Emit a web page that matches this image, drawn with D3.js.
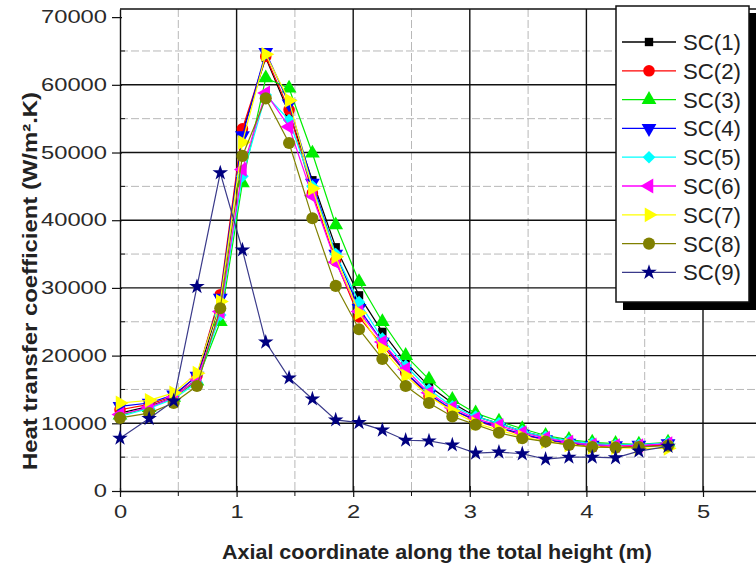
<!DOCTYPE html>
<html>
<head>
<meta charset="utf-8">
<script src="https://cdn.jsdelivr.net/npm/d3@7"></script>
<style>
  body { margin: 0; background: #fff; }
  svg { display: block; font-family: "Liberation Sans", Arial, sans-serif; }
</style>
</head>
<body>
<div id="chart"></div>
<script>
// axial positions (m)
const positions = [0, 0.25, 0.46, 0.66, 0.86, 1.05, 1.25, 1.45, 1.65, 1.85, 2.05, 2.25,
  2.45, 2.65, 2.85, 3.05, 3.25, 3.45, 3.65, 3.85, 4.05, 4.25, 4.45, 4.7];

const sc1 = [11500, 12500, 13800, 16500, 28000, 53000, 64000, 55800, 45900, 36000, 28900, 23500,
  19000, 15500, 13000, 11000, 10000, 8800, 8000, 7400, 7000, 6800, 6700, 7000];
const sc2 = [12000, 12800, 14000, 17000, 29000, 53500, 64200, 56300, 44000, 34000, 25700, 21500,
  17500, 14000, 12000, 10400, 9300, 8300, 7600, 7000, 6600, 6500, 6600, 6800];
const sc3 = [11200, 12300, 13800, 16200, 25000, 45500, 61000, 59500, 49900, 39300, 30900, 25000,
  20000, 16500, 13500, 11500, 10300, 9200, 8200, 7600, 7200, 7000, 6900, 7200];
const sc4 = [12500, 13000, 14200, 17000, 28500, 52500, 64800, 57200, 45500, 35000, 27000, 22000,
  17500, 14300, 12000, 10500, 9400, 8400, 7600, 7100, 6800, 6700, 6800, 7000];
const sc5 = [11000, 12200, 13600, 16000, 26000, 46500, 58500, 54800, 45000, 35000, 27900, 22500,
  18500, 15000, 12500, 11000, 10000, 8800, 8000, 7400, 7000, 6800, 6800, 7100];
const sc6 = [11300, 12400, 13800, 16500, 26500, 47500, 58800, 53800, 43600, 33800, 26500, 22000,
  18000, 14500, 12300, 10700, 9700, 8600, 7800, 7200, 6800, 6700, 6700, 7000];
const sc7 = [13000, 13400, 14500, 17400, 28000, 51500, 64500, 57700, 44700, 34600, 26300, 21000,
  17000, 14000, 11800, 10000, 9000, 8000, 7300, 6800, 6500, 6400, 6300, 6300];
const sc8 = [10800, 11500, 13000, 15500, 27000, 49500, 58000, 51400, 40300, 30300, 23900, 19500,
  15500, 13000, 11000, 9800, 8600, 7800, 7300, 6800, 6500, 6400, 6500, 6700];
const sc9 = [7800, 10700, 13300, 30200, 47000, 35600, 22000, 16700, 13600, 10500, 10100, 9000,
  7500, 7400, 6800, 5600, 5750, 5500, 4700, 5000, 5000, 4900, 5900, 6600];

const seriesNames = ['SC(1)', 'SC(2)', 'SC(3)', 'SC(4)', 'SC(5)', 'SC(6)', 'SC(7)', 'SC(8)', 'SC(9)'];
const seriesValues = [sc1, sc2, sc3, sc4, sc5, sc6, sc7, sc8, sc9];

const xTicks = [0, 1, 2, 3, 4, 5];
const yTicks = [0, 10000, 20000, 30000, 40000, 50000, 60000, 70000];

const COLORS = ['#000000', '#ff0000', '#00ee00', '#0000ff', '#00ffff', '#ff00ff', '#ffff00', '#808000', '#000080'];
const LINE_COLORS = ['#000000', '#ff0000', '#00ee00', '#0000ff', '#00ffff', '#ff00ff', '#ffff00', '#808000', '#3a3a8a'];
// symbol type, size, rotation
const MARKERS = [
  [d3.symbolSquare, 70, 0],
  [d3.symbolCircle, 105, 0],
  [d3.symbolTriangle, 95, 0],
  [d3.symbolTriangle, 95, 180],
  [d3.symbolSquare, 80, 45],
  [d3.symbolTriangle, 95, -90],
  [d3.symbolTriangle, 95, 90],
  [d3.symbolCircle, 115, 0],
  [d3.symbolStar, 75, 0],
];

const W = 756, H = 566;
const svg = d3.select('#chart').append('svg').attr('width', W).attr('height', H);

const x = d3.scaleLinear().domain([0, 5.5]).range([120, 761.3]);
const y = d3.scaleLinear().domain([0, 71200]).range([491, 9]);

// grid
const grid = svg.append('g');
const halfX = d3.range(0.5, 5.6, 1);
const halfY = d3.range(5000, 70000, 10000);
grid.selectAll('.vmin').data(halfX).enter().append('line')
  .attr('x1', (d) => x(d)).attr('x2', (d) => x(d)).attr('y1', y(71200)).attr('y2', y(0))
  .attr('stroke', '#b8b8b8').attr('stroke-width', 1).attr('stroke-dasharray', '8,3');
grid.selectAll('.hmin').data(halfY).enter().append('line')
  .attr('x1', x(0)).attr('x2', W).attr('y1', (d) => y(d)).attr('y2', (d) => y(d))
  .attr('stroke', '#b8b8b8').attr('stroke-width', 1).attr('stroke-dasharray', '8,3');
grid.selectAll('.vmaj').data(xTicks.slice(1)).enter().append('line')
  .attr('x1', (d) => x(d)).attr('x2', (d) => x(d)).attr('y1', y(71200)).attr('y2', y(0))
  .attr('stroke', '#111').attr('stroke-width', 1.4);
grid.selectAll('.hmaj').data(yTicks.slice(1, -1)).enter().append('line')
  .attr('x1', x(0)).attr('x2', W).attr('y1', (d) => y(d)).attr('y2', (d) => y(d))
  .attr('stroke', '#111').attr('stroke-width', 1.4);
grid.append('line')
  .attr('x1', x(0)).attr('x2', W).attr('y1', y(71200)).attr('y2', y(71200))
  .attr('stroke', '#111').attr('stroke-width', 1.4);

// axes
const xAxis = svg.append('g').attr('transform', `translate(0,${y(0)})`)
  .call(d3.axisBottom(x).tickValues(xTicks).tickSize(6).tickSizeOuter(0).tickFormat(d3.format('d')));
xAxis.selectAll('.tick line').attr('y1', -5);
xAxis.selectAll('.tick').filter((d) => d === 0).select('line').attr('y1', -3);
xAxis.append('g').selectAll('line').data(halfX).enter().append('line')
  .attr('x1', (d) => x(d)).attr('x2', (d) => x(d)).attr('y1', 0).attr('y2', 5).attr('stroke', '#111');

const yAxis = svg.append('g').attr('transform', `translate(${x(0)},0)`)
  .call(d3.axisLeft(y).tickValues(yTicks).tickSize(8).tickSizeOuter(0).tickFormat(d3.format('d')));
yAxis.selectAll('.tick line').attr('x1', 2);
yAxis.append('g').selectAll('line').data(halfY).enter().append('line')
  .attr('x1', 0).attr('x2', 5).attr('y1', (d) => y(d)).attr('y2', (d) => y(d)).attr('stroke', '#111');

[xAxis, yAxis].forEach((a) => {
  a.select('.domain').attr('stroke', '#111').attr('stroke-width', 1.4);
  a.selectAll('.tick line').attr('stroke', '#111').attr('stroke-width', 1.2);
  a.selectAll('.tick text')
    .attr('font-size', 18).attr('fill', '#2a2a2a')
    .attr('font-family', '"Liberation Sans", Arial, sans-serif')
    .attr('textLength', function () { return this.textContent.length * 13.2; })
    .attr('lengthAdjust', 'spacingAndGlyphs');
});
xAxis.selectAll('.tick text').attr('y', 14);
yAxis.selectAll('.tick text').attr('x', -13);

// axis titles
svg.append('text')
  .attr('x', 437).attr('y', 559).attr('text-anchor', 'middle')
  .attr('font-size', 20).attr('font-weight', 'bold').attr('fill', '#222')
  .attr('textLength', 430).attr('lengthAdjust', 'spacingAndGlyphs')
  .text('Axial coordinate along the total height (m)');
svg.append('text')
  .attr('transform', 'translate(37,281) rotate(-90)').attr('text-anchor', 'middle')
  .attr('font-size', 20).attr('font-weight', 'bold').attr('fill', '#222')
  .attr('textLength', 378).attr('lengthAdjust', 'spacingAndGlyphs')
  .text('Heat transfer coefficient (W/m\u00b2.K)');

// series
const plot = svg.append('g');
const line = d3.line().x((d) => x(d[0])).y((d) => y(d[1]));
const symbolPath = (i) => d3.symbol().type(MARKERS[i][0]).size(MARKERS[i][1])();

seriesValues.forEach((vals, i) => {
  const pts = positions.map((p, k) => [p, vals[k]]);
  const g = plot.append('g');
  g.append('path').datum(pts).attr('d', line)
    .attr('fill', 'none').attr('stroke', LINE_COLORS[i]).attr('stroke-width', 1.2);
  g.selectAll('path.m').data(pts).enter().append('path')
    .attr('class', 'm')
    .attr('d', symbolPath(i))
    .attr('transform', (d) => `translate(${x(d[0])},${y(d[1])}) rotate(${MARKERS[i][2]})`)
    .attr('fill', COLORS[i]);
});

// legend
const lg = svg.append('g');
lg.append('rect').attr('x', 623).attr('y', 13).attr('width', 140).attr('height', 297).attr('fill', '#000');
lg.append('rect').attr('x', 616).attr('y', 6).attr('width', 133).attr('height', 296)
  .attr('fill', '#fff').attr('stroke', '#111').attr('stroke-width', 1.5);
seriesNames.forEach((name, i) => {
  const ly = 42 + i * 28.8;
  lg.append('line').attr('x1', 622).attr('x2', 676).attr('y1', ly).attr('y2', ly)
    .attr('stroke', LINE_COLORS[i]).attr('stroke-width', 1.3);
  lg.append('path').attr('d', symbolPath(i))
    .attr('transform', `translate(649,${ly}) rotate(${MARKERS[i][2]})`)
    .attr('fill', COLORS[i]);
  lg.append('text').attr('x', 683).attr('y', ly + 8)
    .attr('font-size', 22).attr('fill', '#222')
    .attr('textLength', 58).attr('lengthAdjust', 'spacingAndGlyphs')
    .text(name);
});
</script>
</body>
</html>
